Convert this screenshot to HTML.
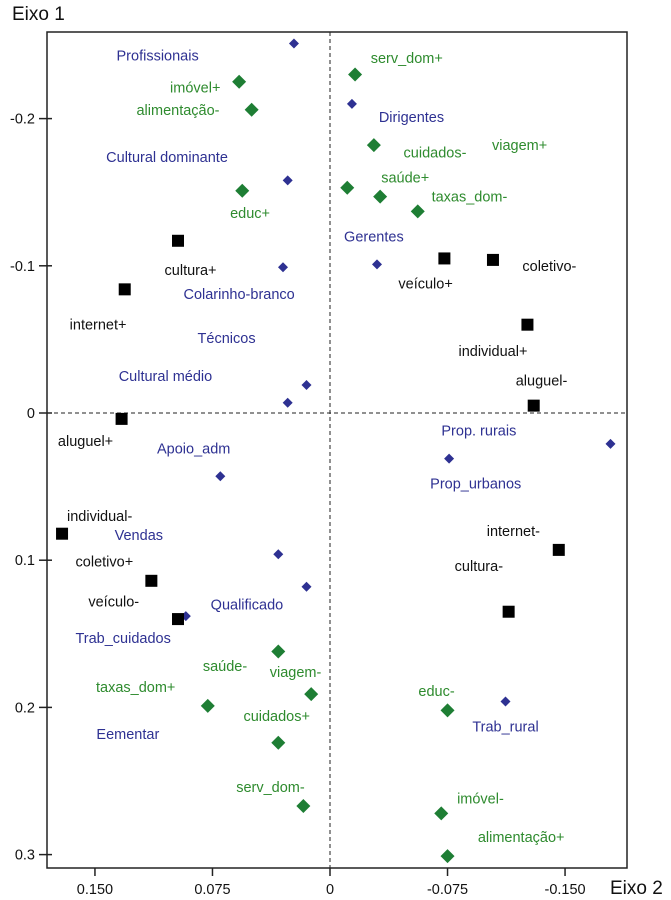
<!DOCTYPE html>
<html><head><meta charset="utf-8"><style>
body{margin:0;background:#fff;}
svg{display:block;font-family:"Liberation Sans",sans-serif;}
</style></head><body>
<svg id="chart" width="671" height="900">
<g id="g"></g>
</svg>
<script>
// x pixel values converted to data: Eixo 2 (reversed), y: Eixo 1
const blueX=[0.023,-0.014,0.027,-0.030,0.030,0.015,0.027,0.070,0.033,0.015,0.092,-0.076,-0.179,-0.112];
const blueY=[-0.251,-0.210,-0.158,-0.101,-0.099,-0.019,-0.007,0.043,0.096,0.118,0.138,0.031,0.021,0.196];
const greenX=[0.058,0.050,0.056,-0.016,-0.028,-0.011,-0.032,-0.056,0.033,0.012,0.078,0.033,0.017,-0.075,-0.071,-0.075];
const greenY=[-0.225,-0.206,-0.151,-0.230,-0.182,-0.153,-0.147,-0.137,0.162,0.191,0.199,0.224,0.267,0.202,0.272,0.301];
const blackX=[0.097,0.131,-0.073,-0.104,-0.126,-0.130,0.133,0.171,-0.146,0.114,0.097,-0.114];
const blackY=[-0.117,-0.084,-0.105,-0.104,-0.060,-0.005,0.004,0.082,0.093,0.114,0.140,0.135];
const labelText=["Profissionais","Dirigentes","Cultural dominante","Gerentes","Colarinho-branco","Técnicos","Cultural médio","Apoio_adm","Prop. rurais","Prop_urbanos","Vendas","Qualificado","Trab_cuidados","Eementar","Trab_rural",
"serv_dom+","imóvel+","alimentação-","cuidados-","viagem+","saúde+","taxas_dom-","educ+","saúde-","viagem-","taxas_dom+","cuidados+","educ-","serv_dom-","imóvel-","alimentação+",
"cultura+","coletivo-","veículo+","internet+","individual+","aluguel-","aluguel+","individual-","coletivo+","veículo-","internet-","cultura-"];
const labelX=[0.110,-0.052,0.104,-0.028,0.058,0.066,0.105,0.087,-0.095,-0.093,0.122,0.053,0.132,0.129,-0.112,
-0.049,0.086,0.097,-0.067,-0.121,-0.048,-0.089,0.051,0.067,0.022,0.124,0.034,-0.068,0.038,-0.096,-0.122,
0.089,-0.140,-0.061,0.148,-0.104,-0.135,0.156,0.147,0.144,0.138,-0.117,-0.095];
const labelY=[-0.243,-0.201,-0.174,-0.120,-0.081,-0.051,-0.025,0.024,0.012,0.048,0.083,0.130,0.153,0.218,0.213,
-0.241,-0.221,-0.206,-0.177,-0.182,-0.160,-0.147,-0.136,0.172,0.176,0.186,0.206,0.189,0.254,0.262,0.288,
-0.097,-0.100,-0.088,-0.060,-0.042,-0.022,0.019,0.070,0.101,0.128,0.080,0.104];
const labelColor=[].concat(Array(15).fill("#2e3192"),Array(16).fill("#2e8b2e"),Array(12).fill("#111"));
const xTicks=[0.150,0.075,0,-0.075,-0.150];
const xTickLabels=["0.150","0.075","0","-0.075","-0.150"];
const yTicks=[-0.2,-0.1,0,0.1,0.2,0.3];
const yTickLabels=["-0.2","-0.1","0","0.1","0.2","0.3"];

const X=v=>330-v*1567;
const Y=v=>413+v*1472;
const L=47,R=627,T=32,B=868;
const g=document.getElementById('g');
const NS="http://www.w3.org/2000/svg";
function mk(t,a){const e=document.createElementNS(NS,t);for(const k in a)e.setAttribute(k,a[k]);g.appendChild(e);return e;}

let fr=mk('rect',{x:L,y:T,width:R-L,height:B-T,fill:'none',stroke:'#222','stroke-width':1.5});


let zx=mk('line',{x1:X(0),x2:X(0),y1:T,y2:B,stroke:'#222','stroke-dasharray':'4,3'});


let zy=mk('line',{x1:L,x2:R,y1:Y(0),y2:Y(0),stroke:'#222','stroke-dasharray':'4,3'});



xTicks.forEach((v,i)=>{
  const tk=mk('line',{x1:X(v),x2:X(v),y1:B,y2:B+8,stroke:'#222','stroke-width':1.5});
  
  
  const t=mk('text',{x:X(v),y:B+26,'text-anchor':'middle','font-size':14.5,fill:'#111'});
  t.textContent=xTickLabels[i];
  
  
});
yTicks.forEach((v,i)=>{
  const tk=mk('line',{x1:L-8,x2:L+5,y1:Y(v),y2:Y(v),stroke:'#222','stroke-width':1.5});
  
  
  const t=mk('text',{x:L-12,y:Y(v)+5,'text-anchor':'end','font-size':14.5,fill:'#111'});
  t.textContent=yTickLabels[i];
  
  
});
let ya=mk('text',{x:12,y:20,'font-size':19,fill:'#111'});ya.textContent="Eixo 1";


let xa=mk('text',{x:610,y:894,'font-size':19,fill:'#111'});xa.textContent="Eixo 2";



function diamond(x,y,r){return `${x},${y-r} ${x+r},${y} ${x},${y+r} ${x-r},${y}`;}
blueX.forEach((v,i)=>{
  const p=mk('polygon',{points:diamond(X(v),Y(blueY[i]),5),fill:'#2e3192'});
  
  
});
greenX.forEach((v,i)=>{
  const p=mk('polygon',{points:diamond(X(v),Y(greenY[i]),7),fill:'#1e7e34'});
  
  
});
blackX.forEach((v,i)=>{
  const p=mk('rect',{x:X(v)-6,y:Y(blackY[i])-6,width:12,height:12,fill:'#000'});
  
  
});
labelText.forEach((s,i)=>{
  const t=mk('text',{x:X(labelX[i]),y:Y(labelY[i])+5,'text-anchor':'middle','font-size':14.5,fill:labelColor[i]});
  t.textContent=s;
  
  
});
</script>
</body></html>
